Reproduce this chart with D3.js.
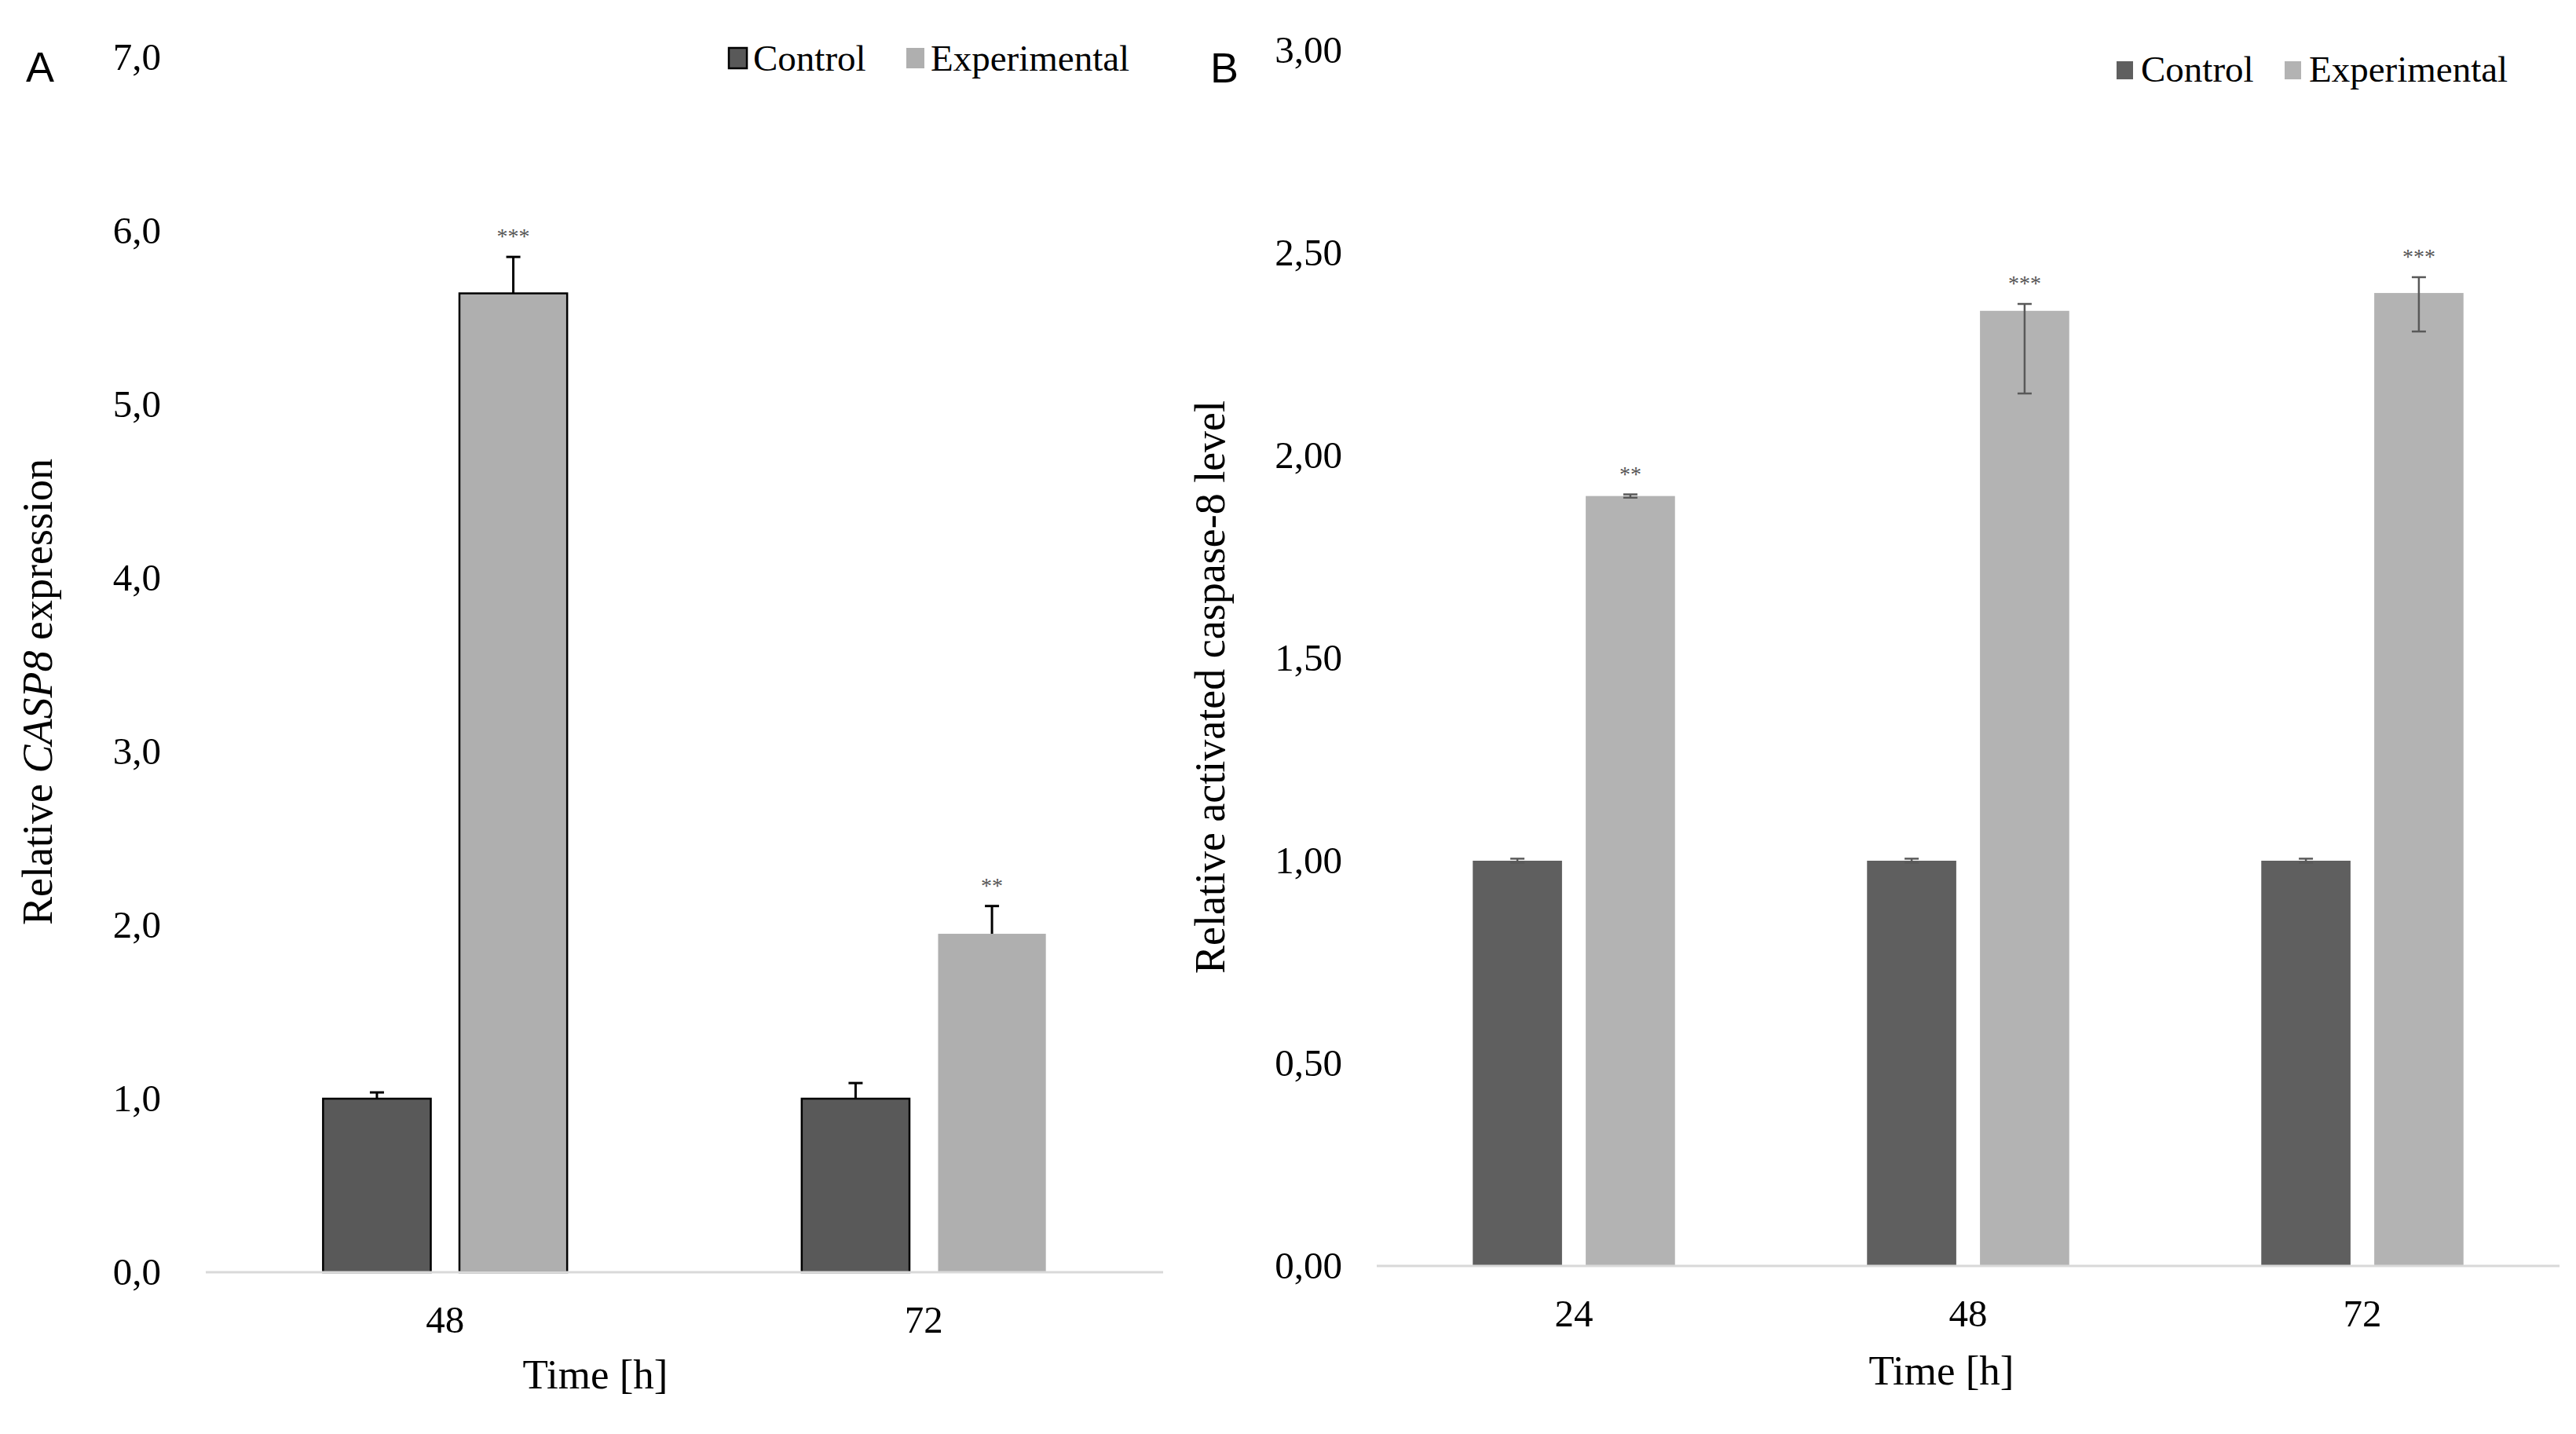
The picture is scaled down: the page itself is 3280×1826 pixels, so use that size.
<!DOCTYPE html>
<html>
<head>
<meta charset="utf-8">
<script src="https://cdn.jsdelivr.net/npm/d3@7"></script>
<style>
  body { margin: 0; background: #fff; }
  svg { display: block; font-family: "Liberation Serif", "Times New Roman", serif; }
</style>
</head>
<body>
<svg width="3280" height="1826"></svg>
<script>
// Painel A - expressão relativa de CASP8
const timesA = ["48", "72"];
const controlA = [1.00, 1.00];
const controlErrA = [0.036, 0.09];
const expA = [5.64, 1.95];
const expErrA = [0.21, 0.16];
const signifA = ["***", "**"];
const ticksA = [0, 1, 2, 3, 4, 5, 6, 7];

// Painel B - caspase-8 ativada
const timesB = ["24", "48", "72"];
const controlB = [1.00, 1.00, 1.00];
const controlErrB = [0.005, 0.005, 0.005];
const expB = [1.90, 2.357, 2.401];
const expErrPlusB = [0.004, 0.017, 0.039];
const expErrMinusB = [0.004, 0.204, 0.095];
const signifB = ["**", "***", "***"];
const ticksB = [0, 0.5, 1, 1.5, 2, 2.5, 3];

const seriesNames = ["Control", "Experimental"];

const serif = "Liberation Serif, Times New Roman, serif";
const locale = d3.formatLocale({decimal: ",", thousands: ".", grouping: [3], currency: ["", ""]});

const svg = d3.select("svg");

function drawPanel(p) {
    // Escalas
    const x0 = d3.scaleBand().domain(p.times).range([p.left, p.right]);
    const x1 = d3.scaleBand().domain(seriesNames)
        .range([0, x0.bandwidth()])
        .paddingInner(0.21)
        .paddingOuter(p.outerPad);
    const y = d3.scaleLinear().domain([0, p.max]).range([p.base, p.top]);

    const rows = p.times.map((t, i) => [
        {time: t, series: "Control", value: p.control[i], plus: p.controlErr[i], minus: p.oneSided ? 0 : p.controlErr[i]},
        {time: t, series: "Experimental", value: p.exp[i], plus: p.expPlus[i], minus: p.expMinus[i], sig: p.signif[i]}
    ]);
    const flat = rows.flat();
    const cx = d => x0(d.time) + x1(d.series) + x1.bandwidth() / 2;

    const g = svg.append("g");

    // Eixo Y (só os rótulos)
    const yAxis = g.append("g")
        .attr("transform", `translate(${p.left},0)`)
        .call(d3.axisLeft(y).tickValues(p.ticks).tickSize(0).tickPadding(p.yPad).tickFormat(locale.format(p.fmt)));
    yAxis.select(".domain").remove();
    yAxis.attr("font-family", serif).attr("font-size", 49);
    yAxis.selectAll("text").attr("fill", "#000");

    // Eixo X
    const xAxis = g.append("g")
        .attr("transform", `translate(0,${p.base})`)
        .call(d3.axisBottom(x0).tickSize(0).tickPadding(42));
    xAxis.select(".domain").remove();
    xAxis.attr("font-family", serif).attr("font-size", 49);
    xAxis.selectAll("text").attr("fill", "#000");

    // Barras
    g.selectAll("rect.bar")
        .data(flat)
        .join("rect")
        .attr("class", "bar")
        .attr("x", d => x0(d.time) + x1(d.series))
        .attr("y", d => y(d.value))
        .attr("width", x1.bandwidth())
        .attr("height", d => y(0) - y(d.value))
        .attr("fill", d => p.colors[d.series])
        .attr("stroke", d => p.outline(d) ? "#000" : "none")
        .attr("stroke-width", 2.5);

    // Linha de base
    g.append("line")
        .attr("x1", p.left).attr("x2", p.right)
        .attr("y1", y(0)).attr("y2", y(0))
        .attr("stroke", "#d9d9d9")
        .attr("stroke-width", 3);

    // Barras de erro
    const err = g.selectAll("g.err").data(flat).join("g").attr("class", "err")
        .attr("stroke", p.errColor).attr("stroke-width", p.errWidth);
    err.append("line")
        .attr("x1", cx).attr("x2", cx)
        .attr("y1", d => y(d.value - d.minus))
        .attr("y2", d => y(d.value + d.plus));
    err.append("line")
        .attr("x1", d => cx(d) - 9).attr("x2", d => cx(d) + 9)
        .attr("y1", d => y(d.value + d.plus))
        .attr("y2", d => y(d.value + d.plus));
    err.filter(d => d.minus > 0).append("line")
        .attr("x1", d => cx(d) - 9).attr("x2", d => cx(d) + 9)
        .attr("y1", d => y(d.value - d.minus))
        .attr("y2", d => y(d.value - d.minus));

    // Asteriscos
    g.selectAll("text.sig")
        .data(flat.filter(d => d.sig))
        .join("text")
        .attr("class", "sig")
        .attr("x", cx)
        .attr("y", d => y(d.value + d.plus) - 17)
        .attr("text-anchor", "middle")
        .attr("font-size", 28)
        .attr("fill", "#555")
        .text(d => d.sig);

    // Títulos dos eixos
    g.append("text")
        .attr("x", p.xTitle[0]).attr("y", p.xTitle[1])
        .attr("text-anchor", "middle")
        .attr("font-size", 53)
        .text("Time [h]");

    const yt = g.append("text")
        .attr("transform", `translate(${p.yTitle[0]},${p.yTitle[1]}) rotate(-90)`)
        .attr("text-anchor", "middle")
        .attr("font-size", p.yTitleSize);
    p.yLabel.forEach(part => yt.append("tspan").attr("font-style", part.italic ? "italic" : null).text(part.text));

    // Letra do painel
    g.append("text")
        .attr("x", p.letter[0]).attr("y", p.letter[1])
        .attr("font-family", "Liberation Sans, Arial, sans-serif")
        .attr("font-size", 54)
        .text(p.letterText);

    // Legenda
    const legend = g.selectAll("g.legend")
        .data(seriesNames)
        .join("g")
        .attr("class", "legend")
        .attr("transform", (d, i) => `translate(${p.legendX[i]},${p.legendY})`);
    legend.append("rect")
        .attr("x", 0).attr("y", -p.legendBox[1] - 3)
        .attr("width", p.legendBox[0]).attr("height", p.legendBox[1])
        .attr("fill", d => p.colors[d])
        .attr("stroke", d => p.legendOutline(d) ? "#000" : "none")
        .attr("stroke-width", 2.5);
    legend.append("text")
        .attr("x", p.legendBox[0] + p.legendGap)
        .attr("y", 0)
        .attr("font-size", 47)
        .text(d => d);
}

drawPanel({
    times: timesA, control: controlA, controlErr: controlErrA,
    exp: expA, expPlus: expErrA, expMinus: expA.map(() => 0), signif: signifA,
    oneSided: true,
    ticks: ticksA, max: 7, fmt: ".1f",
    left: 262, right: 1481, base: 1620, top: 73, outerPad: 0.86, yPad: 57,
    colors: {"Control": "#595959", "Experimental": "#afafaf"},
    outline: d => !(d.series === "Experimental" && d.time === "72"),
    errColor: "#000", errWidth: 3,
    xTitle: [758, 1768], yTitle: [66, 881], yTitleSize: 54,
    yLabel: [{text: "Relative "}, {text: "CASP8", italic: true}, {text: " expression"}],
    letter: [33, 104], letterText: "A",
    legendX: [928, 1154], legendY: 90, legendBox: [23, 26], legendGap: 8,
    legendOutline: d => d === "Control"
});

drawPanel({
    times: timesB, control: controlB, controlErr: controlErrB,
    exp: expB, expPlus: expErrPlusB, expMinus: expErrMinusB, signif: signifB,
    oneSided: false,
    ticks: ticksB, max: 3, fmt: ".2f",
    left: 1753, right: 3259, base: 1612, top: 64, outerPad: 0.85, yPad: 44,
    colors: {"Control": "#5f5f5f", "Experimental": "#b3b3b3"},
    outline: d => false,
    errColor: "#595959", errWidth: 2.5,
    xTitle: [2472, 1763], yTitle: [1559, 875], yTitleSize: 54,
    yLabel: [{text: "Relative activated caspase-8 level"}],
    letter: [1541, 105], letterText: "B",
    legendX: [2695, 2909], legendY: 104, legendBox: [21, 23], legendGap: 10,
    legendOutline: d => false
});
</script>
</body>
</html>
